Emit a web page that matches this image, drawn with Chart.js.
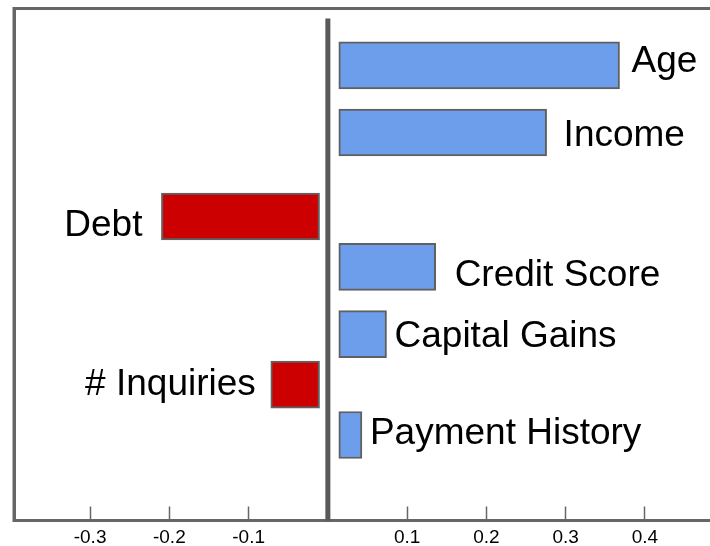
<!DOCTYPE html>
<html><head><meta charset="utf-8">
<script src="https://cdn.jsdelivr.net/npm/chart.js@4"></script>
<style>html,body{margin:0;padding:0;overflow:hidden;background:#fff;width:710px;height:546px}canvas{display:block}</style>
</head><body>
<canvas id="c" width="750" height="546"></canvas>
<script>
// ---- data ----
const features   = ['Age', 'Income', 'Debt', 'Credit Score', 'Capital Gains', '# Inquiries', 'Payment History'];
const importance = [0.368, 0.276, -0.210, 0.136, 0.074, -0.072, 0.043];
const rowSlots   = [0, 4, 9, 12, 16, 19, 22];
const tickValues = [-0.3, -0.2, -0.1, 0.1, 0.2, 0.3, 0.4];
const tickLabels = ['-0.3', '-0.2', '-0.1', '0.1', '0.2', '0.3', '0.4'];

// ---- style ----
const FONT = '"Liberation Sans", Arial, Helvetica, sans-serif';
const GAP_POS = 0.0138, GAP_NEG = 0.0105;
const labelGap = [12, 17, 19, 19, 8, 15, 8];
const labelDy  = [-7, 0, 6, 6, 0, -2.5, -4];
const BLUE = '#6d9eeb', RED = '#cc0000', EDGE = '#606060', FRAME = '#666666';

Chart.defaults.font.family = FONT;

const bars = importance.map((v, i) => ({
  x: v >= 0 ? [GAP_POS, v] : [v, -GAP_NEG],
  y: rowSlots[i]
}));

const decor = {
  id: 'decor',
  beforeDatasetsDraw(chart) {
    const {ctx, chartArea: a, scales: {x}} = chart;
    ctx.save();
    ctx.strokeStyle = FRAME;
    ctx.lineWidth = 3;
    ctx.strokeRect(a.left, a.top, a.right - a.left, a.bottom - a.top);
    const x0 = x.getPixelForValue(0);
    ctx.strokeStyle = '#595959';
    ctx.lineWidth = 5;
    ctx.beginPath();
    ctx.moveTo(x0, a.top + 10);
    ctx.lineTo(x0, a.bottom);
    ctx.stroke();
    ctx.restore();
  },
  afterDatasetsDraw(chart) {
    const {ctx, scales: {x, y}} = chart;
    ctx.save();
    ctx.fillStyle = '#000';
    const size = 37;
    ctx.font = size + 'px ' + FONT;
    ctx.textBaseline = 'alphabetic';
    features.forEach((name, i) => {
      const v = importance[i];
      const yc = y.getPixelForValue(rowSlots[i]) + 0.358 * size + labelDy[i];
      if (v >= 0) {
        ctx.textAlign = 'left';
        ctx.fillText(name, x.getPixelForValue(v) + labelGap[i], yc);
      } else {
        ctx.textAlign = 'right';
        ctx.fillText(name, x.getPixelForValue(v) - labelGap[i], yc);
      }
    });
    ctx.restore();
  }
};

new Chart(document.getElementById('c'), {
  type: 'bar',
  data: {
    datasets: [{
      data: bars,
      backgroundColor: importance.map(v => v >= 0 ? BLUE : RED),
      borderColor: EDGE,
      borderWidth: 2,
      borderSkipped: false,
      barThickness: 47
    }]
  },
  options: {
    indexAxis: 'y',
    responsive: false,
    animation: false,
    devicePixelRatio: 1,
    layout: { padding: { left: 14, top: 8.5, right: 10, bottom: 0 } },
    plugins: { legend: { display: false }, tooltip: { enabled: false } },
    scales: {
      x: {
        type: 'linear', min: -0.396, max: 0.52,
        afterBuildTicks: s => { s.ticks = tickValues.map(v => ({ value: v })); },
        afterFit: s => { s.height = 25.5; },
        ticks: {
          callback: (v, i) => tickLabels[i],
          font: { size: 19 }, color: '#000', padding: 20,
          autoSkip: false, maxRotation: 0
        },
        grid: { drawOnChartArea: false, drawTicks: true, tickLength: -14, tickColor: FRAME, tickWidth: 1.5 },
        border: { display: true, color: FRAME, width: 3 }
      },
      y: {
        type: 'linear', reverse: true, min: -3.38, max: 27.09,
        offset: false, grace: 0,
        ticks: { display: false },
        grid: { display: false, drawTicks: false, offset: false },
        border: { display: true, color: FRAME, width: 3 }
      }
    }
  },
  plugins: [decor]
});
</script>
</body></html>
